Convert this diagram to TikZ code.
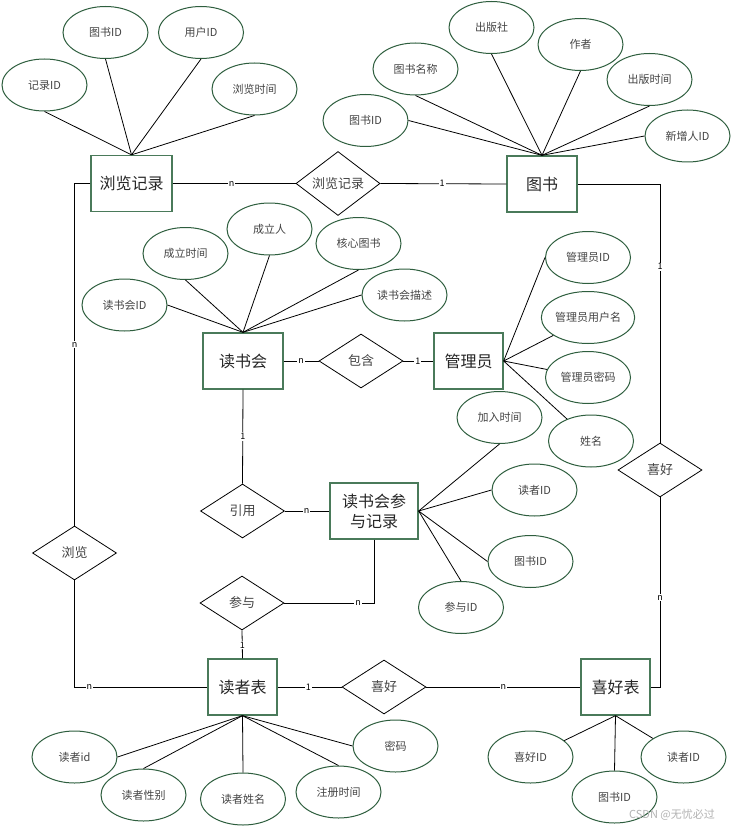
\documentclass[tikz,border=0pt]{standalone}
\usepackage{fontspec}
\setmainfont{Noto Sans CJK SC}
\usetikzlibrary{shapes.geometric}
\definecolor{eg}{HTML}{2E5E3E}
\definecolor{rg}{HTML}{4A7A5A}
\definecolor{tg}{HTML}{444444}
\begin{document}
\begin{tikzpicture}[x=1pt,y=-1pt,
  ent/.style={draw=rg, line width=1.3pt, minimum height=56pt, inner sep=0pt, text=black!85, font=\fontsize{16}{20}\selectfont, align=center},
  attr/.style={ellipse, draw=eg, line width=1pt, minimum width=85pt, minimum height=52pt, inner sep=0pt, text=tg, font=\fontsize{11}{13}\selectfont},
  rel/.style={diamond, draw=black, line width=0.8pt, minimum width=84pt, minimum height=54pt, inner sep=0pt, text=tg, font=\fontsize{13}{15}\selectfont},
  card/.style={fill=white, inner sep=1pt, text=black, font=\fontsize{9}{10}\selectfont},
  conn/.style={draw=black, line width=0.8pt}]
\useasboundingbox[fill=white] (0,0) rectangle (733,829);

% entities
\node[ent, minimum width=81pt] (e1) at (131.5,183.5) {浏览记录};
\node[ent, minimum width=70pt] (e2) at (542,184) {图书};
\node[ent, minimum width=80pt] (e3) at (243,361) {读书会};
\node[ent, minimum width=69pt] (e4) at (468.5,361) {管理员};
\node[ent, minimum width=88pt] (e5) at (374,511) {读书会参\\与记录};
\node[ent, minimum width=69pt] (e6) at (242.5,687) {读者表};
\node[ent, minimum width=69pt] (e7) at (615.5,687) {喜好表};

% relationships
\node[rel] (r1) at (338,183.5) {浏览记录};
\node[rel] (r2) at (361,361) {包含};
\node[rel] (r3) at (660,470) {喜好};
\node[rel] (r4) at (242.5,511) {引用};
\node[rel] (r5) at (74.5,553) {浏览};
\node[rel] (r6) at (242,603) {参与};
\node[rel] (r7) at (384,687) {喜好};

% attributes of 浏览记录
\node[attr] (a11) at (44.5,85) {记录ID};
\node[attr] (a12) at (105.5,32.5) {图书ID};
\node[attr] (a13) at (201,32.5) {用户ID};
\node[attr] (a14) at (254.5,89) {浏览时间};
% attributes of 图书
\node[attr] (a21) at (365.5,120.5) {图书ID};
\node[attr] (a22) at (415.5,69) {图书名称};
\node[attr] (a23) at (491.5,27.5) {出版社};
\node[attr] (a24) at (580.5,44.5) {作者};
\node[attr] (a25) at (649.5,79.5) {出版时间};
\node[attr] (a26) at (687.5,136) {新增人ID};
% attributes of 读书会
\node[attr] (a31) at (124.5,305) {读书会ID};
\node[attr] (a32) at (185.5,253.5) {成立时间};
\node[attr] (a33) at (269.5,229) {成立人};
\node[attr] (a34) at (358.5,243.5) {核心图书};
\node[attr] (a35) at (404.5,295) {读书会描述};
% attributes of 管理员
\node[attr] (a41) at (588,257.5) {管理员ID};
\node[attr] (a42) at (588,317.5) {管理员用户名};
\node[attr] (a43) at (588,377.5) {管理员密码};
\node[attr] (a44) at (591,441) {姓名};
% attributes of 读书会参与记录
\node[attr] (a51) at (499.5,417.5) {加入时间};
\node[attr] (a52) at (534.5,490) {读者ID};
\node[attr] (a53) at (530.5,561.5) {图书ID};
\node[attr] (a54) at (461,607.5) {参与ID};
% attributes of 读者表
\node[attr] (a61) at (74.5,757) {读者id};
\node[attr] (a62) at (143.5,795) {读者性别};
\node[attr] (a63) at (243,799) {读者姓名};
\node[attr] (a64) at (338.5,792) {注册时间};
\node[attr] (a65) at (395.5,746) {密码};
% attributes of 喜好表
\node[attr] (a71) at (530.5,757) {喜好ID};
\node[attr] (a72) at (614.5,797) {图书ID};
\node[attr] (a73) at (683.5,757) {读者ID};

% attribute lines
\foreach \a in {a11,a12,a13,a14} \draw[conn] (\a.south) -- (e1.north);
\draw[conn] (a21.east) -- (e2.north);
\foreach \a in {a22,a23,a24,a25} \draw[conn] (\a.south) -- (e2.north);
\draw[conn] (a26.west) -- (e2.north);
\draw[conn] (a31.east) -- (e3.north);
\foreach \a in {a32,a33,a34} \draw[conn] (\a.south) -- (e3.north);
\draw[conn] (a35.west) -- (e3.north);
\draw[conn] (a41.west) -- (e4.east);
\foreach \a in {a42,a43,a44} \draw[conn] (\a) -- (e4.east);
\draw[conn] (a51.south) -- (e5.east);
\draw[conn] (a52.west) -- (e5.east);
\draw[conn] (a53.west) -- (e5.east);
\draw[conn] (a54.north) -- (e5.east);
\draw[conn] (a61.east) -- (e6.south);
\foreach \a in {a62,a63,a64} \draw[conn] (\a.north) -- (e6.south);
\draw[conn] (a65.west) -- (e6.south);
\draw[conn] (a71) -- (e7.south);
\draw[conn] (a72.north) -- (e7.south);
\draw[conn] (a73) -- (e7.south);

% relationship lines
\draw[conn] (e1.east) -- node[card, pos=0.48] {n} (r1.west);
\draw[conn] (r1.east) -- node[card, pos=0.49] {1} (e2.west);
\draw[conn] (e2.east) -| node[card, pos=0.66] {1} (r3.north);
\draw[conn] (r3.south) |- node[card, pos=0.265] {n} (e7.east);
\draw[conn] (e1.west) -| node[card, pos=0.736] {n} (r5.north);
\draw[conn] (r5.south) |- node[card, pos=0.556] {n} (e6.west);
\draw[conn] (e6.east) -- node[card, pos=0.48] {1} (r7.west);
\draw[conn] (r7.east) -- node[card, pos=0.5] {n} (e7.west);
\draw[conn] (e3.east) -- node[card, pos=0.5] {n} (r2.west);
\draw[conn] (r2.east) -- node[card, pos=0.48] {1} (e4.west);
\draw[conn] (e3.south) -- node[card, pos=0.5] {1} (r4.north);
\draw[conn] (r4.east) -- node[card, pos=0.49] {n} (e5.west);
\draw[conn] (e5.south) |- node[card, pos=0.589] {n} (r6.east);
\draw[conn] (r6.south) -- node[card, pos=0.52] {1} (e6.north);

% watermark
\node[text=black!30, font=\fontsize{11}{13}\selectfont] (wm) at (672,815) {CSDN @无忧必过};
\end{tikzpicture}
\end{document}
